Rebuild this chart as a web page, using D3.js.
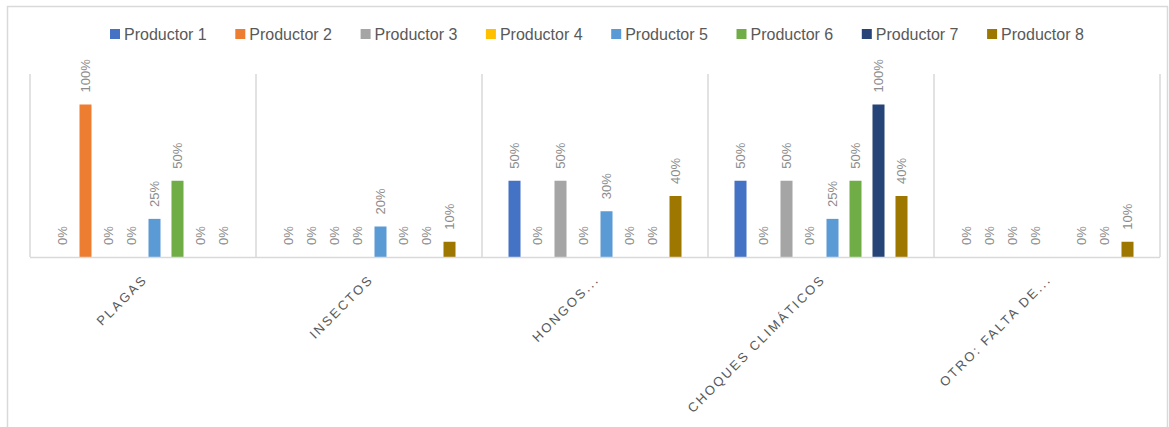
<!DOCTYPE html>
<html><head><meta charset="utf-8">
<script src="https://cdn.jsdelivr.net/npm/d3@7"></script>
<style>
html,body{margin:0;padding:0;background:#fff;}
svg{display:block;font-family:"Liberation Sans",Arial,sans-serif;}
</style></head>
<body><svg id="c" width="1169" height="427"></svg>
<script>
const categories = ["PLAGAS", "INSECTOS", "HONGOS...", "CHOQUES CLIMÁTICOS", "OTRO: FALTA DE..."];
const seriesNames = ["Productor 1","Productor 2","Productor 3","Productor 4","Productor 5","Productor 6","Productor 7","Productor 8"];
const seriesColors = ["#4472C4","#ED7D31","#A5A5A5","#FFC000","#5B9BD5","#70AD47","#264478","#9E7700"];
const productor1 = [0, 0, 0.5, 0.5, 0];
const productor2 = [1, 0, 0, 0, 0];
const productor3 = [0, 0, 0.5, 0.5, 0];
const productor4 = [0, 0, 0, 0, 0];
const productor5 = [0.25, 0.2, 0.3, 0.25, null];
const productor6 = [0.5, 0, 0, 0.5, 0];
const productor7 = [0, 0, 0, 1, 0];
const productor8 = [0, 0.1, 0.4, 0.4, 0.1];
const seriesValues = [productor1,productor2,productor3,productor4,productor5,productor6,productor7,productor8];

const svg = d3.select("#c");
// outer chart frame
svg.append("rect").attr("x",7.5).attr("y",6.5).attr("width",1160).attr("height",440)
  .attr("fill","#fff").attr("stroke","#d9d9d9").attr("stroke-width",1.5);

const plot = {left:30, right:1160, top:74, bottom:257};
const x0 = d3.scaleBand().domain(categories).range([plot.left, plot.right]).paddingInner(0).paddingOuter(0);
const x1 = d3.scaleBand().domain(seriesNames).range([0, x0.bandwidth()]).paddingInner(0.478).paddingOuter(1.152);
const y = d3.scaleLinear().domain([0, 1.2]).range([plot.bottom, plot.top]);

const g = svg.append("g");
// category separators
const edges = categories.map(c => x0(c)).concat([plot.right]);
g.selectAll("line.sep").data(edges).join("line")
  .attr("x1", d=>d).attr("x2", d=>d).attr("y1", plot.top).attr("y2", plot.bottom)
  .attr("stroke","#d9d9d9").attr("stroke-width",1.5);

const data = [];
categories.forEach((c,ci)=>{
  seriesNames.forEach((s,si)=>{
    const v = seriesValues[si][ci];
    if (v !== null && v !== undefined) data.push({c, s, v, color: seriesColors[si]});
  });
});

g.selectAll("rect.bar").data(data).join("rect")
  .attr("x", d=>x0(d.c)+x1(d.s)).attr("width", x1.bandwidth())
  .attr("y", d=>y(d.v)).attr("height", d=>plot.bottom - y(d.v))
  .attr("fill", d=>d.color);

// baseline
g.append("line").attr("x1",plot.left).attr("x2",plot.right).attr("y1",plot.bottom+0.5).attr("y2",plot.bottom+0.5)
  .attr("stroke","#d9d9d9").attr("stroke-width",1.5);

// value labels
g.selectAll("text.lbl").data(data).join("text")
  .attr("transform", d=>`translate(${x0(d.c)+x1(d.s)+x1.bandwidth()/2},${y(d.v)-12}) rotate(-90)`)
  .attr("dy","0.35em").attr("text-anchor","start")
  .attr("font-size",13).attr("fill","#8c8c8c")
  .text(d=>d3.format(".0%")(d.v));

// x axis
const ax = svg.append("g").attr("transform",`translate(0,${plot.bottom})`)
  .call(d3.axisBottom(x0).tickSize(0).tickPadding(0));
ax.select(".domain").remove();
ax.selectAll(".tick text")
  .attr("transform","translate(2,20) rotate(-45)")
  .attr("text-anchor","end").attr("dy","0.35em").attr("y",0).attr("x",0)
  .attr("font-size",13).attr("letter-spacing","2.2px").attr("fill","#595959")
  .attr("font-family","Liberation Sans, Arial, sans-serif");

// legend
const legend = svg.append("g");
const items = legend.selectAll("g").data(seriesNames).join("g")
  .attr("transform",(d,i)=>`translate(${110 + i*125.3},34)`);
items.append("rect").attr("x",0).attr("y",-5).attr("width",10).attr("height",10)
  .attr("fill",(d,i)=>seriesColors[i]);
items.append("text").attr("x",14).attr("y",0).attr("dy","0.35em")
  .attr("font-size",16).attr("fill","#595959").text(d=>d);
</script></body></html>
